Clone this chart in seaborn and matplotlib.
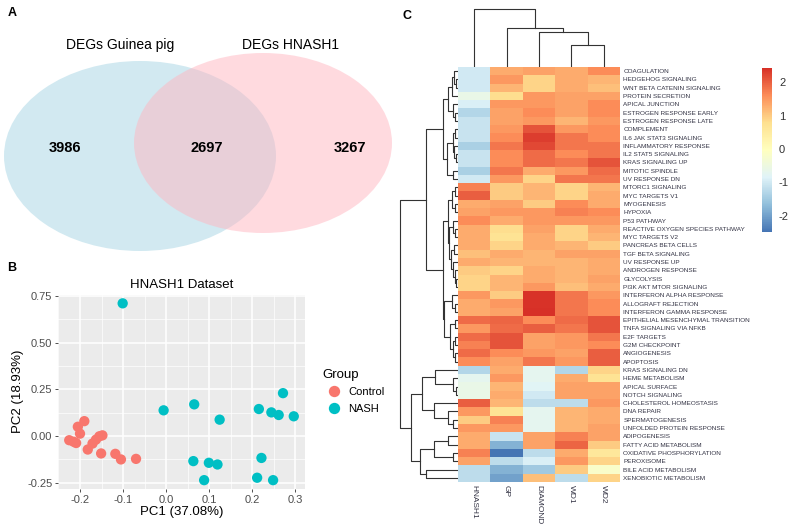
import numpy as np
import pandas as pd
import matplotlib
matplotlib.use("Agg")
import matplotlib.pyplot as plt
from matplotlib.patches import Ellipse
from matplotlib.colors import LinearSegmentedColormap
from matplotlib.ticker import FormatStrFormatter
import seaborn as sns

plt.rcParams['font.family'] = ['Liberation Sans', 'DejaVu Sans']
plt.rcParams['axes.unicode_minus'] = False

# ---------------- data ----------------
# A: venn
venn_names = ["DEGs Guinea pig", "DEGs HNASH1"]
venn_counts = [3986, 2697, 3267]  # only left, shared, only right

# B: PCA of HNASH1 dataset
pc1_control = [-0.19, -0.205, -0.20, -0.225, -0.215, -0.209, -0.182, -0.171, -0.163,
               -0.155, -0.148, -0.151, -0.118, -0.105, -0.07]
pc2_control = [0.08, 0.05, 0.013, -0.022, -0.03, -0.037, -0.072, -0.04, -0.019,
               -0.001, 0.004, -0.093, -0.095, -0.125, -0.122]
pc1_nash = [-0.101, -0.006, 0.065, 0.124, 0.063, 0.099, 0.119, 0.088,
            0.215, 0.244, 0.261, 0.271, 0.296, 0.221, 0.211, 0.248]
pc2_nash = [0.711, 0.138, 0.17, 0.088, -0.134, -0.143, -0.152, -0.236,
            0.145, 0.127, 0.113, 0.23, 0.106, -0.117, -0.223, -0.236]

# C: hallmark heatmap (rows in displayed order)
pathways = [
    "COAGULATION", "HEDGEHOG SIGNALING", "WNT BETA CATENIN SIGNALING", "PROTEIN SECRETION",
    "APICAL JUNCTION", "ESTROGEN RESPONSE EARLY", "ESTROGEN RESPONSE LATE", "COMPLEMENT",
    "IL6 JAK STAT3 SIGNALING", "INFLAMMATORY RESPONSE", "IL2 STAT5 SIGNALING",
    "KRAS SIGNALING UP", "MITOTIC SPINDLE", "UV RESPONSE DN", "MTORC1 SIGNALING",
    "MYC TARGETS V1", "MYOGENESIS", "HYPOXIA", "P53 PATHWAY",
    "REACTIVE OXYGEN SPECIES PATHWAY", "MYC TARGETS V2", "PANCREAS BETA CELLS",
    "TGF BETA SIGNALING", "UV RESPONSE UP", "ANDROGEN RESPONSE", "GLYCOLYSIS",
    "PI3K AKT MTOR SIGNALING", "INTERFERON ALPHA RESPONSE", "ALLOGRAFT REJECTION",
    "INTERFERON GAMMA RESPONSE", "EPITHELIAL MESENCHYMAL TRANSITION",
    "TNFA SIGNALING VIA NFKB", "E2F TARGETS", "G2M CHECKPOINT", "ANGIOGENESIS",
    "APOPTOSIS", "KRAS SIGNALING DN", "HEME METABOLISM", "APICAL SURFACE",
    "NOTCH SIGNALING", "CHOLESTEROL HOMEOSTASIS", "DNA REPAIR", "SPERMATOGENESIS",
    "UNFOLDED PROTEIN RESPONSE", "ADIPOGENESIS", "FATTY ACID METABOLISM",
    "OXIDATIVE PHOSPHORYLATION", "PEROXISOME", "BILE ACID METABOLISM",
    "XENOBIOTIC METABOLISM"]
samples = ["HNASH1", "GP", "DIAMOND", "WD1", "WD2"]

hnash1 = [-1.0, -1.0, -1.0, -0.6, -0.9, -1.3, -1.1, -1.1, -1.1, -1.4, -1.1, -1.1, -1.4, -1.0,
          1.7, 2.0, 1.3, 1.4, 1.6, 1.3, 1.3, 1.3, 1.1, 1.3, 1.0, 0.9, 0.9, 1.5, 1.3, 1.3,
          1.9, 1.5, 1.9, 1.7, 1.9, 1.6,
          -1.3, -0.7, -0.6, -0.6, 2.0, 1.5, 1.0, 1.5, 1.3, 1.3, 1.7, 1.4, -1.2, -1.2]
gp = [1.3, 1.5, 1.2, 0.8, 1.5, 1.4, 1.4, 1.5, 1.6, 1.8, 1.6, 1.6, 1.8, 1.5,
      1.0, 1.0, 1.4, 1.5, 1.3, 0.8, 0.7, 0.9, 1.3, 1.2, 0.9, 1.2, 1.2, 1.0, 1.5, 1.4,
      1.95, 1.9, 2.1, 2.1, 1.6, 1.4,
      1.3, 1.5, 1.2, 1.3, 1.2, 0.7, 1.7, 1.5, -1.1, -1.8, -2.48, -1.2, -1.8, -2.0]
diamond = [1.4, 0.9, 0.9, 1.5, 1.5, 1.6, 1.5, 2.1, 2.3, 2.2, 1.9, 1.9, 1.3, 0.9,
           1.2, 1.2, 1.0, 1.5, 1.5, 1.4, 1.3, 1.3, 1.2, 1.2, 1.3, 1.3, 1.5, 2.4, 2.4, 2.42,
           1.6, 2.0, 1.4, 1.4, 1.5, 1.8,
           -0.7, -0.7, -0.8, -1.0, -1.2, -0.7, -0.7, -0.7, 1.4, 1.4, -1.2, -0.9, -1.5, 1.1]
wd1 = [1.3, 1.3, 1.3, 1.4, 1.4, 1.4, 1.2, 1.5, 1.8, 1.8, 1.6, 1.8, 1.5, 1.8,
       0.9, 0.9, 1.6, 1.7, 1.5, 0.9, 0.9, 1.2, 1.4, 1.2, 1.2, 1.2, 1.1, 1.8, 1.8, 1.8,
       1.9, 1.8, 1.5, 1.5, 1.4, 1.5,
       -1.3, 1.3, 1.4, 1.4, -1.2, 1.2, 1.2, 1.2, 1.7, 1.95, 1.3, 1.5, 1.0, -1.2]
wd2 = [1.6, 1.2, 1.1, 1.4, 1.6, 1.6, 1.5, 1.6, 1.6, 1.8, 1.8, 2.1, 1.9, 1.8,
       1.2, 1.3, 1.3, 1.6, 1.5, 1.3, 1.2, 1.0, 1.4, 1.3, 1.3, 1.4, 1.3, 1.5, 1.6, 1.6,
       2.1, 2.1, 1.8, 1.6, 2.0, 2.0,
       0.9, 0.7, 1.4, 1.4, 1.5, 1.3, 1.3, 1.4, 1.4, 1.0, 0.6, 0.9, -0.2, 0.9]

# dendrograms: (height, left, right), leaves = display index
top_cl = (15, (10, (6, (4, 0, (2, 1, 2)), 3), (5, 4, (3, 5, 6))),
              (11, (5, (3, 7, 8), (4, 9, (2, 10, 11))), (5, 12, 13)))
mid_cl = (15, (10, (6, (3, 14, 15), (3, 16, 17)),
                   (9, (5, 18, (3, 19, 20)), (7, (4, 21, 22), (5, 23, (3, 24, (2, 25, 26)))))),
              (14, (6, 27, (3, 28, 29)), (8, (3, 30, 31), (5, (3, 32, 33), (3, 34, 35)))))
bot_cl = (47, (36, (23, 36, (5, 37, (1.5, 38, 39))), (24, 40, (10, 41, (5, 42, 43)))),
              (38, (24, (10, 44, 45), (5, 46, 47)), (32, 48, 49)))
row_tree = (58, (32, top_cl, mid_cl), bot_cl)
col_tree = (58, 0, (39, 1, (35, 2, (22, 3, 4))))

# ---------------- figure ----------------
W, H = 794, 528
fig = plt.figure(figsize=(W / 100, H / 100), dpi=100)


def box(x0, y0, x1, y1):
    return [x0 / W, 1 - y1 / H, (x1 - x0) / W, (y1 - y0) / H]


# panel letters
for lab, x, y in [("A", 12, 13), ("B", 12, 268), ("C", 407, 16)]:
    fig.text(x / W, 1 - y / H, lab, fontsize=9, fontweight="bold", ha="center", va="center")

# ---- A: venn ----
axv = fig.add_axes(box(0, 0, 400, 265))
axv.set_xlim(0, 400)
axv.set_ylim(265, 0)
axv.axis("off")
axv.add_patch(Ellipse((140, 156), 272, 190, fc="#ADD8E6", alpha=0.55, ec="none"))
axv.add_patch(Ellipse((263, 143), 258, 180, fc="#FFB6C1", alpha=0.5, ec="none"))
axv.text(120, 45, venn_names[0], fontsize=10, ha="center", va="center")
axv.text(290, 45, venn_names[1], fontsize=10, ha="center", va="center")
for cx, n in zip([65, 207, 350], venn_counts):
    axv.text(cx, 148, str(n), fontsize=10.5, fontweight="bold", ha="center", va="center")

# ---- B: PCA ----
pca = pd.DataFrame({
    "PC1": pc1_control + pc1_nash,
    "PC2": pc2_control + pc2_nash,
    "Group": ["Control"] * len(pc1_control) + ["NASH"] * len(pc1_nash),
})
axp = fig.add_axes(box(58, 294.5, 305, 489))
sns.scatterplot(data=pca, x="PC1", y="PC2", hue="Group",
                palette={"Control": "#F8766D", "NASH": "#00BFC4"},
                s=55, linewidth=0, ax=axp, zorder=3)

def expand(v):
    lo, hi = min(v), max(v)
    d = (hi - lo) * 0.05
    return lo - d, hi + d

axp.set_xlim(*expand(pca["PC1"]))
axp.set_ylim(*expand(pca["PC2"]))
axp.set_facecolor("#EBEBEB")
axp.set_xticks([-0.2, -0.1, 0.0, 0.1, 0.2, 0.3])
axp.set_xticks([-0.25, -0.15, -0.05, 0.05, 0.15, 0.25], minor=True)
axp.set_yticks([-0.25, 0.0, 0.25, 0.5, 0.75])
axp.set_yticks([-0.125, 0.125, 0.375, 0.625], minor=True)
axp.xaxis.set_major_formatter(FormatStrFormatter("%.1f"))
axp.yaxis.set_major_formatter(FormatStrFormatter("%.2f"))
axp.grid(which="major", color="white", lw=1.1)
axp.grid(which="minor", color="white", lw=0.5)
axp.set_axisbelow(True)
for s in axp.spines.values():
    s.set_visible(False)
axp.tick_params(which="major", labelsize=8, labelcolor="#4D4D4D", color="#333333",
                length=2.5, width=0.6, pad=1.5)
axp.tick_params(which="minor", length=0)
axp.set_xlabel("PC1 (37.08%)", fontsize=9.5, labelpad=1)
axp.set_ylabel("PC2 (18.93%)", fontsize=9.5, labelpad=2)
axp.set_title("HNASH1 Dataset", fontsize=9.5, pad=5)
axp.legend(title="Group", loc="upper left", bbox_to_anchor=(1.03, 0.67), frameon=False,
           fontsize=8, title_fontsize=9.5, handletextpad=0.3, labelspacing=0.6,
           markerscale=1.1, alignment="left")

# ---- C: heatmap ----
hm = pd.DataFrame({"HNASH1": hnash1, "GP": gp, "DIAMOND": diamond, "WD1": wd1, "WD2": wd2},
                  index=pathways)[samples]
cmap = LinearSegmentedColormap.from_list(
    "rdylbu", ["#4575B4", "#91BFDB", "#E0F3F8", "#FFFFBF", "#FEE090", "#FC8D59", "#D73027"])

axh = fig.add_axes(box(458, 67, 620, 482))
axc = fig.add_axes(box(762, 68, 772, 232))
sns.heatmap(hm, ax=axh, cmap=cmap, vmin=hm.values.min(), vmax=hm.values.max(),
            cbar_ax=axc, xticklabels=True, yticklabels=True, linewidths=0)
axh.yaxis.tick_right()
axh.set_yticklabels(pathways, rotation=0, fontsize=4.6, color="#333344")
axh.set_xticklabels(samples, rotation=270, fontsize=6, color="#333344", va="top")
axh.tick_params(length=0, pad=2.5)
axh.set_xlabel("")
axh.set_ylabel("")

cbar = axh.collections[0].colorbar
cbar.outline.set_visible(False)
cbar.set_ticks([-2, -1, 0, 1, 2])
axc.tick_params(length=0, labelsize=8, labelcolor="#333333", pad=5)


def draw_node(ax, node, horizontal):
    if isinstance(node, int):
        return node + 0.5, 0.0
    h, left, right = node
    p1, h1 = draw_node(ax, left, horizontal)
    p2, h2 = draw_node(ax, right, horizontal)
    if horizontal:
        ax.plot([h1, h, h, h2], [p1, p1, p2, p2], color="#333333", lw=0.8)
    else:
        ax.plot([p1, p1, p2, p2], [h1, h, h, h2], color="#333333", lw=0.8)
    return (p1 + p2) / 2, h


axr = fig.add_axes(box(399, 67, 458, 482))
draw_node(axr, row_tree, True)
axr.set_xlim(59, 0)
axr.set_ylim(len(pathways), 0)
axr.axis("off")

axd = fig.add_axes(box(458, 8, 620, 67))
draw_node(axd, col_tree, False)
axd.set_xlim(0, len(samples))
axd.set_ylim(0, 59)
axd.axis("off")

fig.savefig("out.png", dpi=100)
